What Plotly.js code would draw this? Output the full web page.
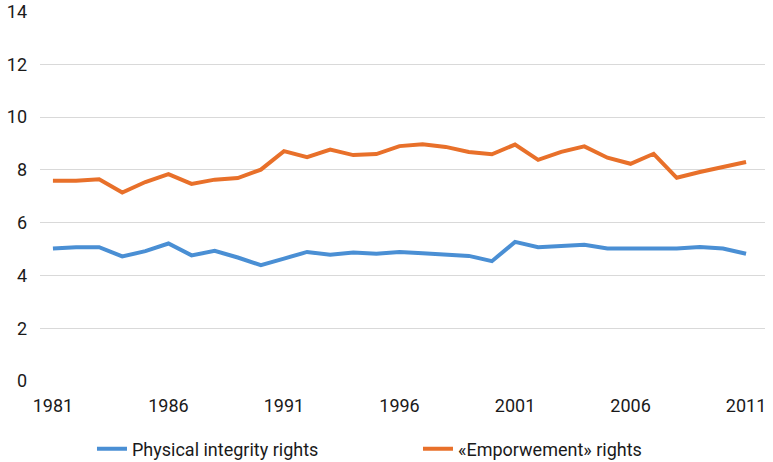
<!DOCTYPE html>
<html>
<head>
<meta charset="utf-8">
<script src="https://cdn.plot.ly/plotly-3.0.1.min.js"></script>
<style>html,body{margin:0;padding:0;background:#fff}#chart{width:773px;height:462px}</style>
</head>
<body>
<div id="chart"></div>
<script>
const years = [1981,1982,1983,1984,1985,1986,1987,1988,1989,1990,1991,1992,1993,1994,1995,1996,1997,1998,1999,2000,2001,2002,2003,2004,2005,2006,2007,2008,2009,2010,2011];
const physicalIntegrity = [5.02,5.07,5.07,4.72,4.92,5.21,4.76,4.93,4.68,4.39,4.64,4.89,4.78,4.87,4.82,4.89,4.84,4.79,4.74,4.54,5.27,5.07,5.12,5.16,5.02,5.02,5.02,5.02,5.08,5.02,4.82];
const empowerment = [7.59,7.59,7.64,7.14,7.54,7.84,7.47,7.63,7.69,8.01,8.71,8.48,8.77,8.56,8.60,8.90,8.97,8.87,8.68,8.59,8.96,8.38,8.68,8.89,8.46,8.23,8.61,7.70,7.92,8.11,8.30];
const seriesNames = ["Physical integrity rights", "«Emporwement» rights"];
const xTicks = [1981,1986,1991,1996,2001,2006,2011];
const yTicks = [0,2,4,6,8,10,12,14];

const tickFont = {family: 'Roboto, "Liberation Sans", sans-serif', size: 18, color: '#1a1a1a'};
const traces = [
  {x: years, y: physicalIntegrity, name: seriesNames[0], type: 'scatter', mode: 'lines',
   line: {color: '#4a8fd4', width: 4}},
  {x: years, y: empowerment, name: seriesNames[1], type: 'scatter', mode: 'lines',
   line: {color: '#e8702a', width: 4}}
];
const layout = {
  width: 773, height: 462,
  margin: {l: 40, r: 8, t: 11, b: 81},
  paper_bgcolor: '#fff', plot_bgcolor: '#fff',
  font: {family: 'Roboto, "Liberation Sans", sans-serif', color: '#1a1a1a', size: 17},
  xaxis: {range: [1980.44, 2011.82], tickvals: xTicks, ticktext: xTicks.map(String),
          showgrid: false, zeroline: false, showline: false, ticks: '',
          tickfont: tickFont, ticklabelstandoff: 12, automargin: false},
  yaxis: {range: [0, 14.02], tickvals: yTicks, showgrid: true, gridcolor: '#d9d9d9', gridwidth: 1,
          zeroline: false, showline: false, ticks: '', tickfont: tickFont,
          ticklabelstandoff: 12, automargin: false},
  showlegend: true,
  legend: {orientation: 'h', xref: 'container', yref: 'container',
           x: 0.119, xanchor: 'left', y: 0.028, yanchor: 'middle',
           font: {size: 18, color: '#1a1a1a', family: 'Roboto, "Liberation Sans", sans-serif'},
           entrywidth: 281, entrywidthmode: 'pixels', tracegroupgap: 0}
};
Plotly.newPlot('chart', traces, layout, {displayModeBar: false, staticPlot: true});
</script>
</body>
</html>
